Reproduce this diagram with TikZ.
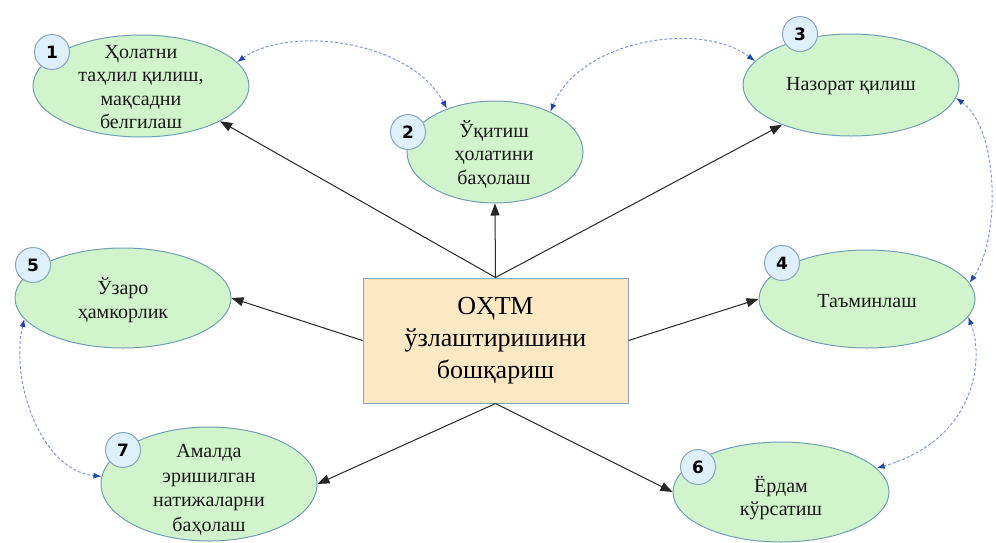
\documentclass[tikz,border=0pt]{standalone}
\usepackage{fontspec}
\setmainfont{Liberation Serif}
\newfontfamily\numfont{DejaVu Sans}
\usetikzlibrary{shapes.geometric,arrows.meta}
\definecolor{ellfill}{HTML}{D2F4CC}
\definecolor{ellborder}{HTML}{6F9FB4}
\definecolor{numfill}{HTML}{DDF0FB}
\definecolor{numborder}{HTML}{8AA6BE}
\definecolor{boxfill}{HTML}{FCE9C4}
\definecolor{boxborder}{HTML}{8CA3B8}
\definecolor{dashblue}{HTML}{7F98D8}
\definecolor{tipblue}{HTML}{1E46B4}
\begin{document}
\begin{tikzpicture}[x=1pt,y=-1pt,
  ell/.style={ellipse, draw=ellborder, fill=ellfill, line width=1pt, inner sep=0pt, minimum width=216pt, minimum height=102pt},
  etext/.style={align=center, inner sep=0pt, text=black!90, font=\fontsize{20}{23.5}\selectfont},
  num/.style={circle, draw=numborder, fill=numfill, line width=1pt, minimum size=35pt, inner sep=0pt, font=\numfont\bfseries\fontsize{17}{17}\selectfont},
  mainbox/.style={rectangle, draw=boxborder, fill=boxfill, line width=1pt, minimum width=265pt, minimum height=125pt, align=center, font=\fontsize{26}{32}\selectfont},
  mainarrow/.style={-{Triangle[length=12pt,width=9pt]}, line width=1pt, black!85},
  link/.style={draw=dashblue, dash pattern=on 3pt off 2pt, line width=1pt, {Latex[length=8pt,width=6pt,color=tipblue]}-{Latex[length=8pt,width=6pt,color=tipblue]}}
]
\useasboundingbox (0,0) rectangle (996,542);

% central box
\node[mainbox] (c) at (495.5,340.5) {ОҲТМ\\ўзлаштиришини\\бошқариш};

% ellipses
\node[ell] (e1) at (141,86) {};
\node[etext] (t1) at (141,87) {Ҳолатни\\таҳлил қилиш,\\мақсадни\\белгилаш};
\node[ell, minimum width=176pt] (e2) at (495,152) {};
\node[etext] (t2) at (494,154) {Ўқитиш\\ҳолатини\\баҳолаш};
\node[ell] (e3) at (851,85) {};
\node[etext] (t3) at (851,86) {Назорат қилиш};
\node[ell, minimum height=98pt] (e4) at (867,299) {};
\node[etext] (t4) at (867,301) {Таъминлаш};
\node[ell, minimum height=100pt] (e5) at (123,298) {};
\node[etext] (t5) at (123,300) {Ўзаро\\ҳамкорлик};
\node[ell, minimum height=114pt] (e7) at (209,484) {};
\node[etext, font=\fontsize{20}{24.5}\selectfont] (t7) at (209,490) {Амалда\\эришилган\\натижаларни\\баҳолаш};
\node[ell, minimum height=100pt] (e6) at (781,492) {};
\node[etext] (t6) at (781,498) {Ёрдам\\кўрсатиш};

% number badges
\node[num] (n1) at (52,52) {1};
\node[num] (n2) at (408,132) {2};
\node[num] (n3) at (800,34) {3};
\node[num] (n4) at (782,263) {4};
\node[num] (n5) at (33,265) {5};
\node[num] (n6) at (698,467) {6};
\node[num] (n7) at (123,450) {7};

% main arrows
\draw[mainarrow] (c.north) -- (e1.-24);
\draw[mainarrow] (c.north) -- (e2.south);
\draw[mainarrow] (c.north) -- (e3.210);
\draw[mainarrow] (c.west) -- (e5.east);
\draw[mainarrow] (c.east) -- (e4.west);
\draw[mainarrow] (c.south) -- (e7.east);
\draw[mainarrow] (c.south) -- (e6.west);

% dashed links
\draw[link] (e1.14) .. controls (290,25) and (410,40) .. (e2.138);
\draw[link] (e2.36) .. controls (580,40) and (700,20) .. (e3.166);
\draw[link] (e3.-7) .. controls (1000,130) and (1000,240) .. (e4.9);
\draw[link] (e4.-10) .. controls (985,360) and (975,440) .. (e6.14);
\draw[link] (e5.192) .. controls (10,380) and (40,470) .. (e7.176);
\end{tikzpicture}
\end{document}
